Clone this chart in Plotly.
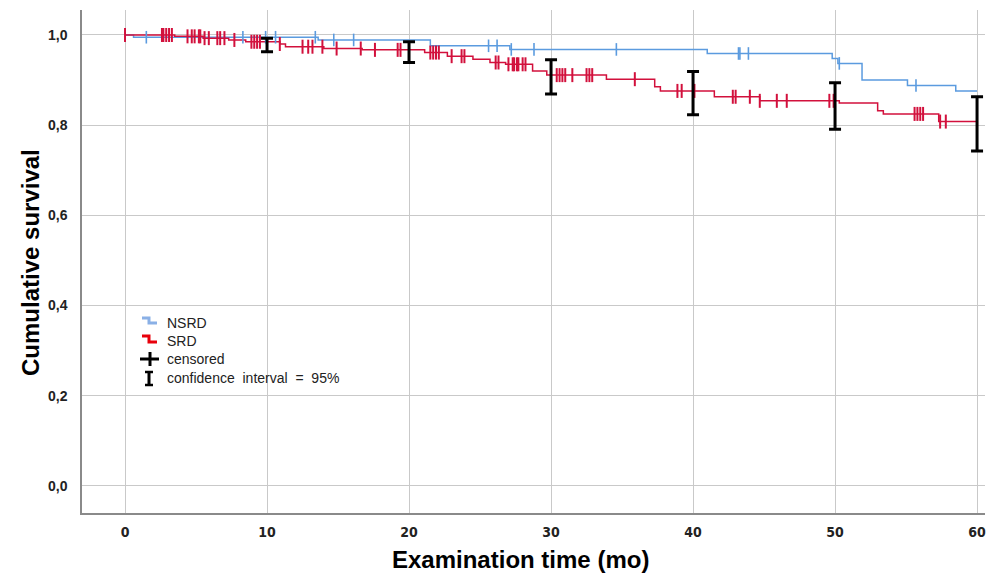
import numpy as np
import plotly.graph_objects as go

# ---------------- data ----------------
nsrd_times = [0, 0.6, 13.6, 21.5, 27.1, 41.0, 49.8, 50.2, 51.9, 55.1, 58.5, 60]
nsrd_surv = [1.0, 0.995, 0.989, 0.976, 0.968, 0.959, 0.948, 0.937, 0.900, 0.888, 0.876, 0.876]

srd_times = [0, 3.5, 5.5, 7.3, 8.5, 10.9, 11.3, 14.0, 16.7, 21.1, 22.7, 24.5, 25.7, 26.8,
             28.7, 29.7, 33.9, 37.3, 37.7, 41.5, 44.7, 50.3, 53.0, 53.4, 57.3, 60]
srd_surv = [1.0, 0.997, 0.993, 0.989, 0.985, 0.980, 0.974, 0.970, 0.967, 0.961, 0.953, 0.946,
            0.939, 0.935, 0.920, 0.911, 0.902, 0.885, 0.876, 0.863, 0.854, 0.849, 0.832, 0.825,
            0.808, 0.808]

nsrd_censored = [1.5, 8.3, 9.9, 10.6, 13.4, 14.7, 16.1, 25.6, 26.2, 27.2, 28.8, 34.6,
                 43.2, 43.3, 43.9, 50.3, 55.7]
srd_censored = [0, 2.6, 2.7, 2.9, 3.1, 3.3, 4.4, 4.7, 4.9, 5.2, 5.3, 5.6, 5.9, 6.5, 6.7, 7.0,
                7.7, 8.9, 9.1, 9.3, 9.5, 10.9, 12.5, 12.9, 13.2, 13.9, 14.9, 16.6, 17.6, 19.2,
                19.4, 21.5, 21.7, 21.9, 22.1, 23.0, 23.7, 23.9, 26.1, 26.3, 27.0, 27.3, 27.4,
                27.6, 27.7, 28.0, 28.2, 30.4, 30.6, 30.8, 31.0, 31.5, 32.5, 32.7, 32.9, 35.9,
                38.9, 39.2, 40.0, 40.1, 42.8, 43.0, 44.0, 44.7, 45.9, 46.6, 49.6, 49.9, 55.6,
                55.8, 56.0, 56.2, 57.4, 57.8]

ci_times = [10, 20, 30, 40, 50, 60]
ci_lower = [0.963, 0.939, 0.869, 0.823, 0.791, 0.743]
ci_upper = [0.993, 0.985, 0.945, 0.919, 0.894, 0.863]

x_ticks = [0, 10, 20, 30, 40, 50, 60]
y_ticks = [0.0, 0.2, 0.4, 0.6, 0.8, 1.0]

BLUE = "#5b9bdf"
RED = "#d2103c"
FONT = "Liberation Sans, Arial, sans-serif"


def step_value(times, surv, t):
    idx = np.searchsorted(np.array(times), t, side="right") - 1
    return np.array(surv)[idx]


fig = go.Figure()
fig.add_trace(go.Scatter(x=nsrd_times, y=nsrd_surv, mode="lines", line_shape="hv",
                         line=dict(color=BLUE, width=1.5), showlegend=False))
fig.add_trace(go.Scatter(x=srd_times, y=srd_surv, mode="lines", line_shape="hv",
                         line=dict(color=RED, width=1.5), showlegend=False))
fig.add_trace(go.Scatter(x=nsrd_censored, y=step_value(nsrd_times, nsrd_surv, nsrd_censored),
                         mode="markers",
                         marker=dict(symbol="line-ns-open", size=9, color=BLUE,
                                     line=dict(color=BLUE, width=1.6)),
                         showlegend=False))
fig.add_trace(go.Scatter(x=srd_censored, y=step_value(srd_times, srd_surv, srd_censored),
                         mode="markers",
                         marker=dict(symbol="line-ns-open", size=10, color=RED,
                                     line=dict(color=RED, width=2)),
                         showlegend=False))
ci_mid = [(a + b) / 2 for a, b in zip(ci_lower, ci_upper)]
ci_half = [(b - a) / 2 for a, b in zip(ci_lower, ci_upper)]
fig.add_trace(go.Scatter(x=ci_times, y=ci_mid, mode="markers",
                         marker=dict(size=1, color="rgba(0,0,0,0)"),
                         error_y=dict(type="data", array=ci_half, visible=True,
                                      color="black", thickness=3, width=6),
                         showlegend=False))

# ---------------- layout ----------------
W, H = 987, 575
L, R, T, B = 82, 2, 10, 62
pw, ph = W - L - R, H - T - B


def px(x):
    return (x - L) / pw


def py(y):
    return (H - B - y) / ph


shapes = []
annotations = []
# custom legend
lx_text = 165
items = [(323, "NSRD"), (341, "SRD"), (359, "censored"), (378, "confidence  interval  =  95%")]
for yy, txt in items:
    annotations.append(dict(x=px(lx_text), y=py(yy), xref="paper", yref="paper", text=txt,
                            showarrow=False, xanchor="left", yanchor="middle",
                            font=dict(family=FONT, size=14, color="#222")))
shapes.append(dict(type="path", xref="paper", yref="paper",
                   path="M %f,%f L %f,%f L %f,%f L %f,%f" % (px(142), py(318), px(149), py(318),
                                                          px(149), py(323), px(157), py(323)),
                   line=dict(color="#8ab0e6", width=3)))
shapes.append(dict(type="path", xref="paper", yref="paper",
                   path="M %f,%f L %f,%f L %f,%f L %f,%f" % (px(142), py(336), px(149), py(336),
                                                          px(149), py(342), px(157), py(342)),
                   line=dict(color="#e8000b", width=3)))
shapes.append(dict(type="line", xref="paper", yref="paper", x0=px(140), x1=px(159),
                   y0=py(359), y1=py(359), line=dict(color="black", width=3)))
shapes.append(dict(type="line", xref="paper", yref="paper", x0=px(150), x1=px(150),
                   y0=py(352), y1=py(366), line=dict(color="black", width=3)))
shapes.append(dict(type="line", xref="paper", yref="paper", x0=px(149), x1=px(149),
                   y0=py(372), y1=py(385), line=dict(color="black", width=3)))
shapes.append(dict(type="line", xref="paper", yref="paper", x0=px(145), x1=px(153),
                   y0=py(372), y1=py(372), line=dict(color="black", width=2.5)))
shapes.append(dict(type="line", xref="paper", yref="paper", x0=px(145), x1=px(153),
                   y0=py(385), y1=py(385), line=dict(color="black", width=2.5)))

# axis titles
annotations.append(dict(x=px(520), y=py(559), xref="paper", yref="paper",
                        text="<b>Examination time (mo)</b>", showarrow=False,
                        xanchor="center", yanchor="middle",
                        font=dict(family=FONT, size=24, color="black")))
annotations.append(dict(x=px(30), y=py(263), xref="paper", yref="paper",
                        text="<b>Cumulative survival</b>", showarrow=False, textangle=-90,
                        xanchor="center", yanchor="middle",
                        font=dict(family=FONT, size=24, color="black")))

fig.update_layout(
    width=W, height=H,
    margin=dict(l=L, r=R, t=T, b=B),
    paper_bgcolor="white", plot_bgcolor="white",
    separators=", ",
    shapes=shapes, annotations=annotations,
    showlegend=False,
    xaxis=dict(range=[-3.03, 60.56], tickvals=x_ticks, ticktext=[str(v) for v in x_ticks],
               showgrid=True, gridcolor="#c9c9c9", gridwidth=1, zeroline=False,
               showline=True, linecolor="#8a8a8a", linewidth=1.5, ticks="",
               ticklabelstandoff=5,
               tickfont=dict(family="DejaVu Sans Condensed, Liberation Sans Narrow, Liberation Sans",
                             size=14, color="#222", weight="bold")),
    yaxis=dict(range=[-0.0599, 1.0554], tickvals=y_ticks, tickformat=".1f",
               showgrid=True, gridcolor="#c9c9c9", gridwidth=1, zeroline=False,
               showline=True, linecolor="#8a8a8a", linewidth=1.5, ticks="",
               ticklabelstandoff=10,
               tickfont=dict(family=FONT, size=14, color="#222", weight="bold")),
)

fig.write_html("out.html", config={"displayModeBar": False},
               post_script="document.body.style.margin='0';document.body.style.overflow='hidden';")
